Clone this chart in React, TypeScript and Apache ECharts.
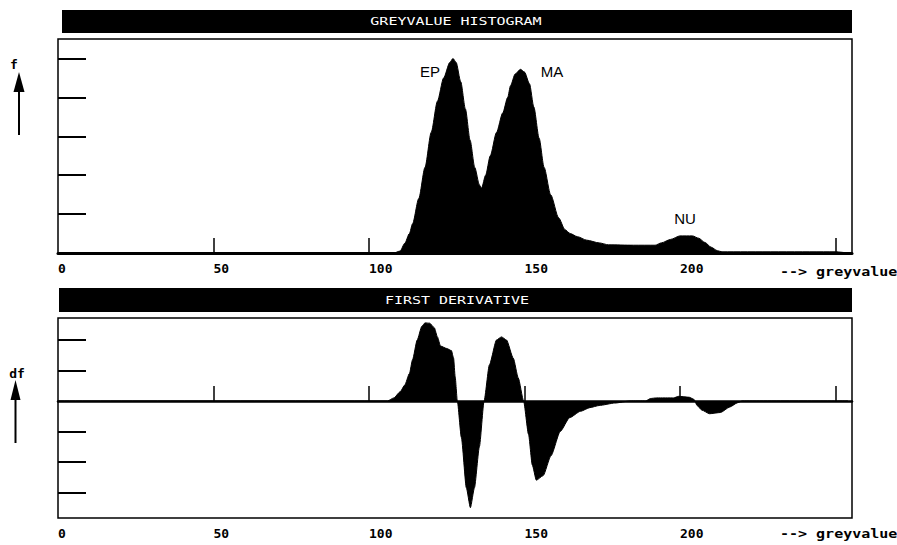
import React, { useEffect, useRef } from "react";
import * as echarts from "echarts";

// Histogram of greyvalues (f, in tick units)
const histGrey = [0, 108, 110, 111.5, 113, 114, 116, 118, 120, 122, 124, 126, 127, 128, 129.5, 131, 132.5, 134, 135.5, 136.2, 137.5, 139, 141, 143, 144.6, 145.5, 147, 148.7, 150, 151.6, 153, 154.7, 156.3, 158.4, 161, 163, 164.7, 167, 170, 174, 177, 185, 192, 194, 197, 200, 204, 206, 208, 210, 212, 213.5, 250, 254];
const histF = [0, 0, 0.05, 0.25, 0.5, 0.75, 1.4, 2.2, 3.1, 3.9, 4.5, 4.9, 5.0, 4.9, 4.4, 3.7, 2.9, 2.2, 1.75, 1.67, 2.0, 2.5, 3.1, 3.6, 4.0, 4.3, 4.6, 4.72, 4.65, 4.35, 3.75, 2.95, 2.2, 1.5, 0.9, 0.6, 0.5, 0.42, 0.33, 0.26, 0.21, 0.2, 0.2, 0.26, 0.35, 0.44, 0.44, 0.38, 0.27, 0.15, 0.06, 0.03, 0.03, 0];

// First derivative (df, in tick units)
const derivGrey = [0, 106, 108, 110, 111.5, 113, 114, 115.5, 117, 118, 119.5, 121, 122, 123, 125, 126.5, 127.2, 127.7, 128.4, 129.7, 131.3, 132.6, 133.9, 135.5, 137, 138.7, 141, 142.6, 144.2, 146.4, 148, 149.7, 151.3, 152.5, 153.8, 156, 158.5, 161.5, 164.5, 168, 171, 174, 179, 184, 189, 190.5, 192.5, 198, 199.5, 203, 204.5, 205.5, 207, 209.5, 213, 216, 218.5, 220, 254];
const derivDf = [0, 0, 0.1, 0.3, 0.52, 0.9, 1.35, 2.0, 2.45, 2.56, 2.55, 2.4, 2.1, 1.8, 1.72, 1.65, 1.4, 0.8, 0, -1.2, -2.85, -3.5, -2.85, -1.5, 0, 1.18, 2.0, 2.1, 2.0, 1.4, 0.75, 0, -1.1, -2.1, -2.6, -2.45, -1.8, -1.0, -0.55, -0.34, -0.22, -0.15, -0.07, 0, 0, 0.08, 0.1, 0.1, 0.15, 0.12, 0.05, -0.15, -0.3, -0.42, -0.38, -0.2, -0.06, 0, 0];

const xTickValues = [50, 100, 150, 200, 250];
const xLabelValues = [0, 50, 100, 150, 200];
const fTickValues = [1, 2, 3, 4, 5];
const dfTickValues = [-3, -2, -1, 1, 2];

const MONO = "'DejaVu Sans Mono', monospace";
const X_MAX = 255.3;

export default function App() {
  const ref = useRef<HTMLDivElement>(null);
  useEffect(() => {
    if (!ref.current) return;
    const chart = echarts.init(ref.current, null, { renderer: "svg" });
    const histData = histGrey.map((g, i) => [g, histF[i]]);
    const derivData = derivGrey.map((g, i) => [g, derivDf[i]]);
    const labelStyle = {
      show: true,
      customValues: xLabelValues,
      align: "left",
      color: "#000",
      fontFamily: MONO,
      fontWeight: "bold",
      fontSize: 13,
      margin: 9,
    };
    chart.setOption({
      animation: false,
      backgroundColor: "#fff",
      grid: [
        { left: 58, top: 39, width: 794, height: 214, show: true, borderColor: "#000", borderWidth: 1.5, backgroundColor: "transparent" },
        { left: 58, top: 318, width: 794, height: 200, show: true, borderColor: "#000", borderWidth: 1.5, backgroundColor: "transparent" },
      ],
      xAxis: [
        {
          type: "value", gridIndex: 0, min: 0, max: X_MAX, position: "bottom",
          splitLine: { show: false },
          axisLine: { show: true, lineStyle: { color: "#000", width: 3 } },
          axisTick: { show: true, inside: true, length: 15, customValues: xTickValues, lineStyle: { color: "#000", width: 1.5 } },
          axisLabel: labelStyle,
        },
        {
          type: "value", gridIndex: 1, min: 0, max: X_MAX, position: "bottom",
          splitLine: { show: false },
          axisLine: { show: true, onZero: true, lineStyle: { color: "#000", width: 2.5 } },
          axisTick: { show: true, inside: true, length: 15, customValues: xTickValues, lineStyle: { color: "#000", width: 1.5 } },
          axisLabel: { show: false },
        },
        {
          type: "value", gridIndex: 1, min: 0, max: X_MAX, position: "bottom",
          splitLine: { show: false },
          axisLine: { show: false, onZero: false },
          axisTick: { show: false },
          axisLabel: labelStyle,
        },
      ],
      yAxis: [
        {
          type: "value", gridIndex: 0, min: 0, max: 5.5,
          splitLine: { show: false },
          axisLine: { show: false },
          axisTick: { show: true, inside: true, length: 28, customValues: fTickValues, lineStyle: { color: "#000", width: 2 } },
          axisLabel: { show: false },
        },
        {
          type: "value", gridIndex: 1, min: -3.84, max: 2.72,
          splitLine: { show: false },
          axisLine: { show: false },
          axisTick: { show: true, inside: true, length: 28, customValues: dfTickValues, lineStyle: { color: "#000", width: 2 } },
          axisLabel: { show: false },
        },
      ],
      series: [
        {
          type: "line", xAxisIndex: 0, yAxisIndex: 0, data: histData,
          showSymbol: false, symbol: "none", smooth: 0.25, smoothMonotone: "x",
          lineStyle: { color: "#000", width: 1 },
          areaStyle: { color: "#000", opacity: 1 },
        },
        {
          type: "line", xAxisIndex: 1, yAxisIndex: 1, data: derivData,
          showSymbol: false, symbol: "none", smooth: 0.2, smoothMonotone: "x",
          lineStyle: { color: "#000", width: 1 },
          areaStyle: { color: "#000", opacity: 1, origin: 0 },
        },
      ],
      graphic: [
        { type: "rect", shape: { x: 62, y: 10, width: 790, height: 23 }, style: { fill: "#000" } },
        { type: "text", x: 456, y: 21.5, scaleY: 0.72, style: { text: "GREYVALUE HISTOGRAM", fill: "#fff", font: `15px ${MONO}`, textAlign: "center", textVerticalAlign: "middle" } },
        { type: "rect", shape: { x: 59, y: 288, width: 793, height: 24 }, style: { fill: "#000" } },
        { type: "text", x: 457, y: 300, scaleY: 0.72, style: { text: "FIRST DERIVATIVE", fill: "#fff", font: `15px ${MONO}`, textAlign: "center", textVerticalAlign: "middle" } },
        // f arrow
        { type: "text", x: 14, y: 64, style: { text: "f", fill: "#000", font: `bold 13px ${MONO}`, textAlign: "center", textVerticalAlign: "middle" } },
        { type: "line", shape: { x1: 19, y1: 88, x2: 19, y2: 135 }, style: { stroke: "#000", lineWidth: 2 } },
        { type: "polygon", shape: { points: [[19, 72], [13.5, 92], [24.5, 92]] }, style: { fill: "#000" } },
        // df arrow
        { type: "text", x: 17, y: 373, style: { text: "df", fill: "#000", font: `bold 13px ${MONO}`, textAlign: "center", textVerticalAlign: "middle" } },
        { type: "line", shape: { x1: 15.5, y1: 396, x2: 15.5, y2: 443 }, style: { stroke: "#000", lineWidth: 2 } },
        { type: "polygon", shape: { points: [[15.5, 380], [10.5, 400], [20.5, 400]] }, style: { fill: "#000" } },
        // axis names
        { type: "text", x: 780, y: 271, scaleY: 0.85, style: { text: "--> greyvalue", fill: "#000", font: `bold 15px ${MONO}`, textAlign: "left", textVerticalAlign: "middle" } },
        { type: "text", x: 780, y: 533, scaleY: 0.85, style: { text: "--> greyvalue", fill: "#000", font: `bold 15px ${MONO}`, textAlign: "left", textVerticalAlign: "middle" } },
        // peak annotations
        { type: "text", x: 430, y: 71, style: { text: "EP", fill: "#000", font: "15px 'Liberation Sans', Arial, sans-serif", textAlign: "center", textVerticalAlign: "middle" } },
        { type: "text", x: 552, y: 71, style: { text: "MA", fill: "#000", font: "15px 'Liberation Sans', Arial, sans-serif", textAlign: "center", textVerticalAlign: "middle" } },
        { type: "text", x: 685, y: 218, style: { text: "NU", fill: "#000", font: "15px 'Liberation Sans', Arial, sans-serif", textAlign: "center", textVerticalAlign: "middle" } },
      ],
    });
    return () => chart.dispose();
  }, []);
  return (
    <div
      ref={ref}
      style={{ position: "fixed", left: 0, top: 0, width: 897, height: 545, background: "#fff" }}
    />
  );
}
